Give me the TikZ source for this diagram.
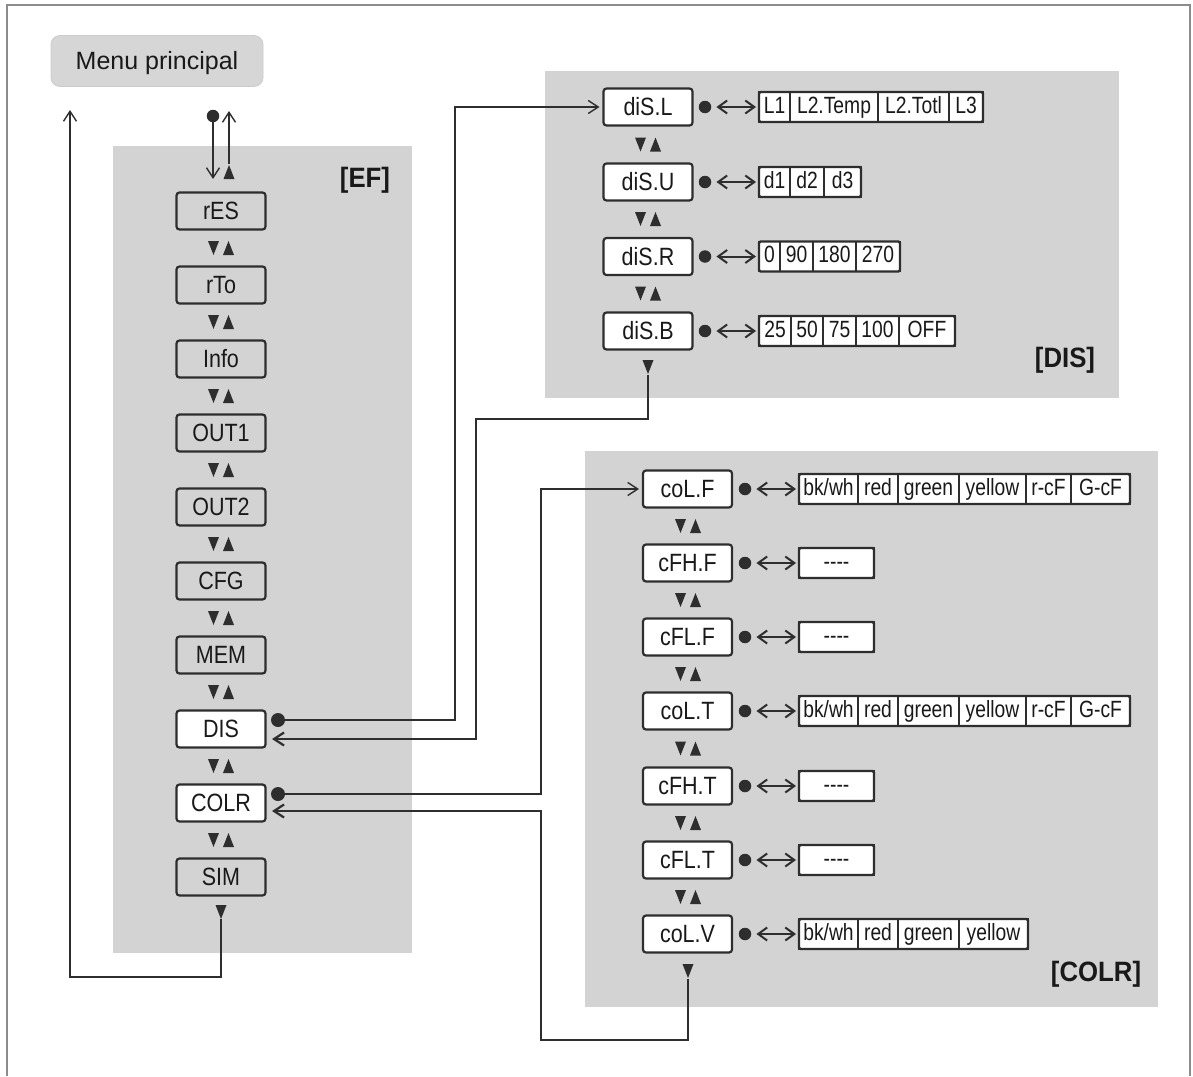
\documentclass[tikz,border=0pt]{standalone}
\usepackage{fontspec}
\setmainfont{Liberation Sans}
\newfontfamily\boxfont[FakeStretch=0.86]{Liberation Sans}
\newfontfamily\optfont[FakeStretch=0.82]{Liberation Sans}
\newfontfamily\lblfont[FakeStretch=0.92]{Liberation Sans}
\usetikzlibrary{arrows.meta,calc}
\definecolor{panel}{HTML}{D3D3D3}
\definecolor{ink}{HTML}{2E2E2E}
\definecolor{menufill}{HTML}{D6D6D6}
\definecolor{framec}{HTML}{8C8C8C}
\tikzset{
  menubox/.style={fill=menufill, draw=black!20, line width=0.8pt, rounded corners=9pt,
    minimum width=212pt, minimum height=51pt, inner sep=0pt,
    font=\fontsize{25}{30}\selectfont, text=black!90, text height=18pt, text depth=2pt},
  itembox/.style={draw=ink, line width=2.2pt, rounded corners=3pt, minimum width=89pt,
    minimum height=37pt, inner sep=0pt, outer sep=0pt,
    font=\boxfont\fontsize{25}{28}\selectfont, text=black!90, text height=17.5pt, text depth=0pt},
  hibox/.style={itembox, fill=white},
  cell/.style={draw=ink, line width=1.2pt, fill=white, minimum height=30pt, inner sep=0pt,
    outer sep=0pt, font=\optfont\fontsize{23.5}{26}\selectfont, text=black!90,
    text height=16.5pt, text depth=4.5pt},
  cellouter/.style={draw=ink, line width=2.2pt, rounded corners=1.5pt},
  conn/.style={draw=ink, line width=1.4pt},
  retconn/.style={draw=ink, line width=2.2pt},
  arrowend/.style={arrows={-Straight Barb[length=10pt,width=13pt]}},
  dbl/.style={draw=ink, line width=2pt,
    arrows={Straight Barb[length=9pt,width=13pt]-Straight Barb[length=9pt,width=13pt]}},
  dotnode/.style={circle, fill=ink, inner sep=0pt, minimum size=14pt},
  rowdot/.style={circle, fill=ink, inner sep=0pt, minimum size=12.5pt},
  seclabel/.style={font=\lblfont\bfseries\fontsize{28}{32}\selectfont, text=black!90},
  tridn/.pic={\fill[ink] (-5.5,-7) -- (5.5,-7) -- (0,7) -- cycle;},
  triup/.pic={\fill[ink] (-5.5,7) -- (5.5,7) -- (0,-7) -- cycle;},
  tripair/.pic={\fill[ink] (-13,-7) -- (-2,-7) -- (-7.5,7) -- cycle;
                \fill[ink] (2,7) -- (13,7) -- (7.5,-7) -- cycle;},
}
\newcommand\optrow[5]{%
  \coordinate (#1-0) at (#2,#3);
  \foreach \w/\t [count=\i, remember=\i as \lasti (initially 0)] in {#5} {
    \node[cell, minimum width=\w pt, anchor=west] (#1-\i) at (#1-\lasti.east) {\t};
  }
  \draw[cellouter] (#1-1.north west) rectangle (#1-#4.south east);
}
\begin{document}
\begin{tikzpicture}[x=1pt,y=-1pt]
\useasboundingbox (0,0) rectangle (1193,1076);
\fill[white] (0,0) rectangle (1193,1076);
% outer frame
\draw[framec, line width=1.6pt] (7,1076) -- (7,5) -- (1190,5) -- (1190,1076);
% panels
\fill[panel] (113,146) rectangle (412,953);
\fill[panel] (545,71) rectangle (1119,398);
\fill[panel] (585,451) rectangle (1158,1007);
% menu
\node[menubox] (menu) at (157,61) {Menu principal};
% EF column
\node[itembox] (rES)  at (221,211) {rES};
\node[itembox] (rTo)  at (221,285) {rTo};
\node[itembox] (Info) at (221,359) {Info};
\node[itembox] (OUT1) at (221,433) {OUT1};
\node[itembox] (OUT2) at (221,507) {OUT2};
\node[itembox] (CFG)  at (221,581) {CFG};
\node[itembox] (MEM)  at (221,655) {MEM};
\node[hibox]   (DIS)  at (221,729) {DIS};
\node[hibox]   (COLR) at (221,803) {COLR};
\node[itembox] (SIM)  at (221,877) {SIM};
\foreach \y in {248,322,396,470,544,618,692,766,840} \pic at (221,\y) {tripair};
\pic at (229,172) {triup};
\pic at (221,912) {tridn};
\node[seclabel] (lEF) at (365,180) {[EF]};
% DIS column
\node[hibox] (diSL) at (648,107) {diS.L};
\node[hibox] (diSU) at (648,182) {diS.U};
\node[hibox] (diSR) at (648,256.5) {diS.R};
\node[hibox] (diSB) at (648,331) {diS.B};
\foreach \y in {144.5,219,293.5} \pic at (648,\y) {tripair};
\pic at (648,367) {tridn};
\node[seclabel] (lDIS) at (1065,360) {[DIS]};
\optrow{oL}{759}{107}{4}{31/L1,88/L2.Temp,71/L2.Totl,34/L3}
\optrow{oU}{759}{182}{3}{31/d1,34/d2,37/d3}
\optrow{oR}{759}{256.5}{4}{21/0,33/90,43/180,44/270}
\optrow{oB}{759}{331}{5}{32/25,32/50,33/75,43/100,56/OFF}
\node[rowdot] (dL) at (705,107) {};
\node[rowdot] (dU) at (705,182) {};
\node[rowdot] (dR) at (705,256.5) {};
\node[rowdot] (dB) at (705,331) {};
\draw[dbl, shorten <=5pt, shorten >=3pt] (dL.east) -- (oL-1.west);
\draw[dbl, shorten <=5pt, shorten >=3pt] (dU.east) -- (oU-1.west);
\draw[dbl, shorten <=5pt, shorten >=3pt] (dR.east) -- (oR-1.west);
\draw[dbl, shorten <=5pt, shorten >=3pt] (dB.east) -- (oB-1.west);
% COLR column
\node[hibox] (colF) at (687.5,489) {coL.F};
\node[hibox] (cFHF) at (687.5,563) {cFH.F};
\node[hibox] (cFLF) at (687.5,637) {cFL.F};
\node[hibox] (colT) at (687.5,711) {coL.T};
\node[hibox] (cFHT) at (687.5,786) {cFH.T};
\node[hibox] (cFLT) at (687.5,860) {cFL.T};
\node[hibox] (colV) at (687.5,934) {coL.V};
\foreach \y in {526,600,674,748.5,823,897} \pic at (688,\y) {tripair};
\pic at (688,971) {tridn};
\node[seclabel] (lCOLR) at (1096,974) {[COLR]};
\optrow{cF}{799}{489}{6}{59/{bk/wh},40/red,61/green,67/yellow,45/r-cF,59/G-cF}
\optrow{hF}{799}{563}{1}{75/----}
\optrow{lF}{799}{637}{1}{75/----}
\optrow{cT}{799}{711}{6}{59/{bk/wh},40/red,61/green,67/yellow,45/r-cF,59/G-cF}
\optrow{hT}{799}{786}{1}{75/----}
\optrow{lT}{799}{860}{1}{75/----}
\optrow{cV}{799}{934}{4}{59/{bk/wh},40/red,61/green,69/yellow}
\foreach \n/\y in {eF/489,eHF/563,eLF/637,eT/711,eHT/786,eLT/860,eV/934}
  \node[rowdot] (\n) at (745,\y) {};
\draw[dbl, shorten <=5pt, shorten >=3pt] (eF.east) -- (cF-1.west);
\draw[dbl, shorten <=5pt, shorten >=3pt] (eHF.east) -- (hF-1.west);
\draw[dbl, shorten <=5pt, shorten >=3pt] (eLF.east) -- (lF-1.west);
\draw[dbl, shorten <=5pt, shorten >=3pt] (eT.east) -- (cT-1.west);
\draw[dbl, shorten <=5pt, shorten >=3pt] (eHT.east) -- (hT-1.west);
\draw[dbl, shorten <=5pt, shorten >=3pt] (eLT.east) -- (lT-1.west);
\draw[dbl, shorten <=5pt, shorten >=3pt] (eV.east) -- (cV-1.west);
% menu connectors
\node[rowdot] (mdot) at (213,116) {};
\coordinate (efin) at (213,179);
\coordinate (efup) at (229,164);
\coordinate (mup) at (229,111);
\draw[conn, arrowend] (mdot) -- (efin);
\draw[conn, arrowend] (efup) -- (mup);
\coordinate (simout) at (221,919);
\coordinate (simbend) at (221,977);
\coordinate (menuret) at (70,110);
\draw[conn, arrowend] (simout) -- (simbend) -| (menuret);
% DIS connectors
\node[dotnode] (disdot) at (278,720) {};
\coordinate (disA) at (455,720);
\draw[conn, arrowend, shorten >=4pt] (disdot) -- (disA) |- (diSL.west);
\coordinate (disBout) at (648,375);
\coordinate (disB1) at (648,419);
\coordinate (disB2) at (476,419);
\coordinate (disin) at (272,739);
\draw[retconn, arrowend] (disBout) -- (disB1) -- (disB2) |- (disin);
% COLR connectors
\node[dotnode] (colrdot) at (278,794) {};
\coordinate (colA) at (541,794);
\draw[conn, arrowend, shorten >=4pt] (colrdot) -- (colA) |- (colF.west);
\coordinate (colVout) at (688,979);
\coordinate (colV1) at (688,1040);
\coordinate (colV2) at (541,1040);
\coordinate (colrin) at (272,811);
\draw[retconn, arrowend] (colVout) -- (colV1) -- (colV2) |- (colrin);
\end{tikzpicture}
\end{document}
